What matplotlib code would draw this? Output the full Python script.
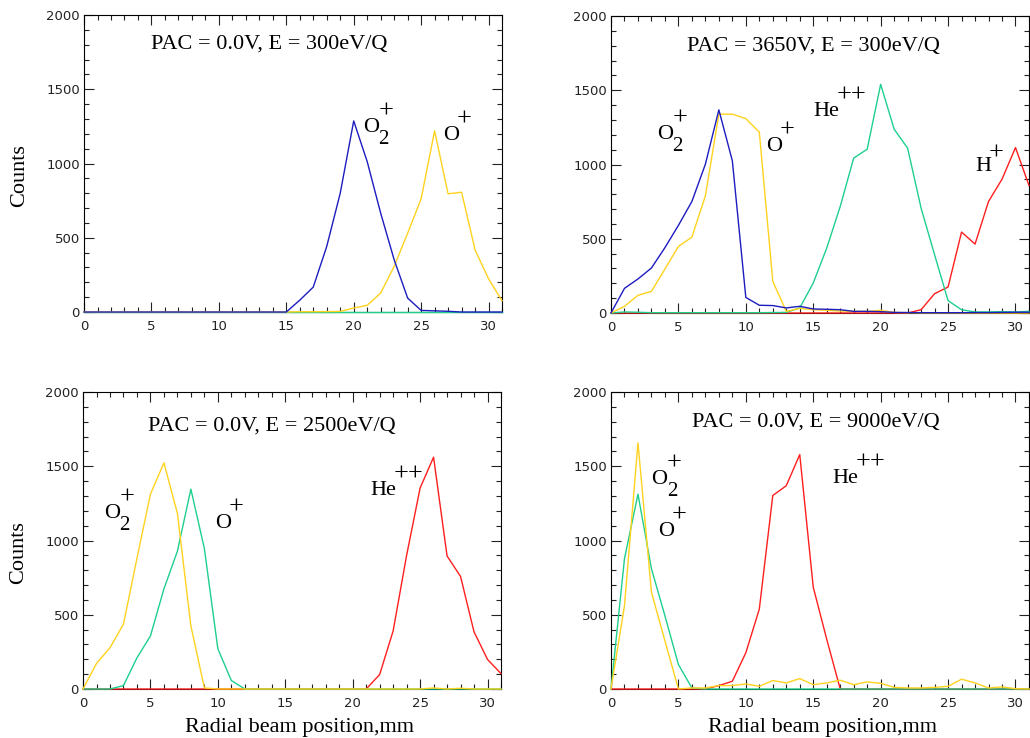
# Bibliotecas utilizadas

import matplotlib
matplotlib.use("Agg")
import matplotlib.pyplot as plt
from matplotlib.ticker import MultipleLocator

# Posicao radial do feixe (mm), um ponto por mm
posicao = list(range(32))

# Painel 1: PAC = 0.0V, E = 300eV/Q
azul_1 = [0, 0, 0, 0, 0, 0, 0, 0, 0, 0, 0, 0, 0, 0, 0, 0,
          80, 168, 442, 800, 1287, 1013, 666, 352, 94, 11, 8, 5, 0, 0, 0, 0]
amarelo_1 = [0, 0, 0, 0, 0, 0, 0, 0, 0, 0, 0, 0, 0, 0, 0, 0,
             2, 2, 3, 4, 27, 45, 128, 307, 531, 762, 1220, 796, 807, 419, 224, 76]
verde_1 = [0] * 32

# Painel 2: PAC = 3650V, E = 300eV/Q
azul_2 = [0, 166, 229, 303, 440, 590, 751, 1002, 1368, 1025, 105, 52, 50, 34, 45, 27,
          25, 22, 11, 11, 9, 4, 3, 2, 2, 2, 2, 3, 3, 4, 5, 5]
amarelo_2 = [0, 45, 119, 146, 296, 448, 511, 789, 1339, 1339, 1309, 1218, 213, 11, 31, 22,
             18, 13, 11, 11, 18, 4, 2, 0, 0, 0, 0, 0, 0, 0, 0, 0]
verde_2 = [0, 7, 5, 2, 2, 2, 2, 2, 2, 2, 2, 2, 3, 4, 34, 202,
           437, 717, 1043, 1103, 1540, 1238, 1110, 706, 392, 83, 22, 7, 7, 9, 7, 11]
vermelho_2 = [0, 0, 0, 0, 0, 0, 0, 0, 0, 0, 0, 0, 0, 0, 0, 0,
              0, 0, 0, 0, 0, 0, 0, 22, 130, 175, 545, 464, 751, 901, 1114, 859]

# Painel 3: PAC = 0.0V, E = 2500eV/Q
amarelo_3 = [0, 172, 278, 437, 880, 1312, 1523, 1183, 425, 7, 0, 0, 0, 0, 0, 0,
             0, 0, 0, 0, 0, 0, 0, 0, 0, 0, 7, 0, 5, 0, 0, 0]
verde_3 = [0, 0, 0, 23, 210, 357, 674, 928, 1346, 946, 271, 57, 0, 0, 0, 0,
           0, 0, 0, 0, 0, 0, 0, 0, 0, 0, 0, 0, 0, 0, 0, 0]
vermelho_3 = [0, 0, 0, 0, 0, 0, 0, 0, 0, 0, 0, 0, 0, 0, 0, 0,
              0, 0, 0, 0, 0, 0, 97, 391, 900, 1353, 1561, 896, 758, 385, 199, 104]

# Painel 4: PAC = 0.0V, E = 9000eV/Q
amarelo_4 = [0, 561, 1658, 652, 324, 0, 7, 7, 23, 23, 34, 18, 57, 41, 70, 29,
             41, 59, 29, 48, 38, 11, 7, 7, 11, 18, 66, 41, 7, 14, 2, 0]
verde_4 = [0, 878, 1312, 810, 493, 165, 7, 0, 0, 0, 0, 0, 0, 0, 0, 0,
           0, 0, 0, 0, 0, 0, 0, 0, 0, 0, 0, 0, 0, 0, 0, 0]
vermelho_4 = [0, 0, 0, 0, 0, 0, 0, 0, 23, 52, 244, 538, 1303, 1369, 1579, 686,
              335, 0, 0, 0, 0, 0, 0, 0, 0, 0, 0, 0, 0, 0, 0, 0]

AZUL = '#1c1cc0'
AMARELO = '#ffd21e'
VERDE = '#1ecf8e'
VERMELHO = '#ff1e1e'

serif = 'Liberation Serif'

fig = plt.figure(figsize=(10.3, 7.38), dpi=100)
renderer = fig.canvas.get_renderer()

w, h = 0.4058, 0.4024
ax1 = fig.add_axes([0.0816, 0.5772, w, h])
ax2 = fig.add_axes([0.5932, 0.5759, w, h])
ax3 = fig.add_axes([0.0806, 0.0664, w, h])
ax4 = fig.add_axes([0.5932, 0.0664, w, h])


def estilo(ax):
	ax.set_xlim(0, 31)
	ax.set_ylim(0, 2000)
	ax.xaxis.set_major_locator(MultipleLocator(5))
	ax.xaxis.set_minor_locator(MultipleLocator(1))
	ax.yaxis.set_major_locator(MultipleLocator(500))
	ax.yaxis.set_minor_locator(MultipleLocator(100))
	ax.tick_params(which='both', direction='in', top=True, right=True,
	               width=0.8, labelsize=9.5, colors='#222222')
	ax.tick_params(which='major', length=7)
	ax.tick_params(which='minor', length=3.5)
	ax.tick_params(axis='y', pad=3)
	ax.tick_params(axis='x', pad=6)
	for s in ax.spines.values():
		s.set_linewidth(0.8)


def curva(ax, y, cor):
	ax.plot(posicao, y, color=cor, lw=1.0, clip_on=False, zorder=3)


def rotulo(ax, x, y, texto):
	ax.text(x, y, texto, fontsize=16, family=serif, ha='left', va='baseline')


# Ion com sobrescrito (e subscrito) grandes, no estilo do IDL
def ion(ax, x, y, base, sobre, sub=None, subida=10.5):
	t = ax.text(x, y, base, fontsize=16, family=serif, ha='left', va='baseline')
	largura = t.get_window_extent(renderer).width * 72 / fig.dpi
	dx = largura - 0.5 if sub else largura - 1.5
	ax.annotate(sobre, xy=(x, y), xytext=(dx, subida), textcoords='offset points',
	            fontsize=19, family=serif, ha='left', va='baseline')
	if sub:
		ax.annotate(sub, xy=(x, y), xytext=(largura - 0.5, -8.5), textcoords='offset points',
		            fontsize=15, family=serif, ha='left', va='baseline')


# Painel 1
estilo(ax1)
curva(ax1, verde_1, VERDE)
curva(ax1, amarelo_1, AMARELO)
curva(ax1, azul_1, AZUL)
rotulo(ax1, 5.0, 1775, 'PAC = 0.0V, E = 300eV/Q')
ion(ax1, 20.7, 1211, 'O', '+', '2')
ion(ax1, 26.6, 1157, 'O', '+')

# Painel 2
estilo(ax2)
curva(ax2, vermelho_2, VERMELHO)
curva(ax2, verde_2, VERDE)
curva(ax2, amarelo_2, AMARELO)
curva(ax2, azul_2, AZUL)
rotulo(ax2, 5.6, 1770, 'PAC = 3650V, E = 300eV/Q')
ion(ax2, 3.4, 1171, 'O', '+', '2')
ion(ax2, 11.5, 1090, 'O', '+')
ion(ax2, 15.0, 1326, 'He', '++')
ion(ax2, 27.0, 956, 'H', '+', subida=8)

# Painel 3
estilo(ax3)
curva(ax3, vermelho_3, VERMELHO)
curva(ax3, verde_3, VERDE)
curva(ax3, amarelo_3, AMARELO)
rotulo(ax3, 4.8, 1743, 'PAC = 0.0V, E = 2500eV/Q')
ion(ax3, 1.56, 1151, 'O', '+', '2')
ion(ax3, 9.8, 1083, 'O', '+')
ion(ax3, 21.3, 1305, 'He', '++')

# Painel 4
estilo(ax4)
curva(ax4, vermelho_4, VERMELHO)
curva(ax4, verde_4, VERDE)
curva(ax4, amarelo_4, AMARELO)
rotulo(ax4, 6.0, 1770, 'PAC = 0.0V, E = 9000eV/Q')
ion(ax4, 3.0, 1380, 'O', '+', '2')
ion(ax4, 3.5, 1030, 'O', '+')
ion(ax4, 16.4, 1386, 'He', '++')

# Rotulos dos eixos
for ax in (ax1, ax3):
	ax.text(-0.153, 0.46, 'Counts', transform=ax.transAxes, rotation=90,
	        fontsize=16, family=serif, ha='center', va='center')
ax3.text(0.517, -0.145, 'Radial beam position,mm', transform=ax3.transAxes,
         fontsize=16, family=serif, ha='center', va='baseline')
ax4.text(0.507, -0.145, 'Radial beam position,mm', transform=ax4.transAxes,
         fontsize=16, family=serif, ha='center', va='baseline')

fig.savefig('out.png', dpi=100)
